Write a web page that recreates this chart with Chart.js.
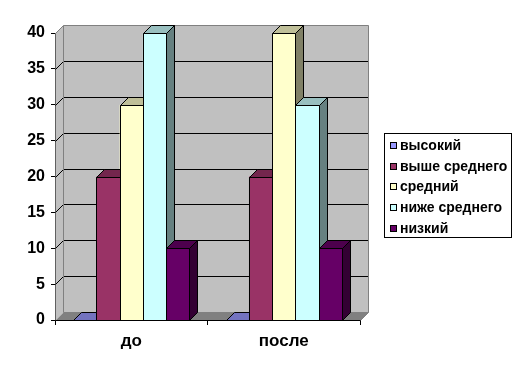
<!DOCTYPE html>
<html>
<head>
<meta charset="utf-8">
<script src="https://cdn.jsdelivr.net/npm/chart.js@4/dist/chart.umd.min.js"></script>
<style>
  html, body { margin: 0; padding: 0; background: #ffffff; }
  #wrap { position: relative; width: 516px; height: 373px; }
</style>
</head>
<body>
<div id="wrap"><canvas id="c" width="516" height="373"></canvas></div>
<script>
// ---- data ----
const categories = ['до', 'после'];
const seriesNames = ['высокий', 'выше среднего', 'средний', 'ниже среднего', 'низкий'];
const vysokiy = [0, 0];
const vysheSrednego = [20, 20];
const sredniy = [30, 40];
const nizheSrednego = [40, 30];
const nizkiy = [10, 10];
const seriesColors = ['#9999FF', '#993366', '#FFFFCC', '#CCFFFF', '#660066'];
const yMin = 0, yMax = 40, yStep = 5;

const seriesValues = [vysokiy, vysheSrednego, sredniy, nizheSrednego, nizkiy];

const DX = 8, DY = -8;

function shade(hex, f) {
  const n = parseInt(hex.slice(1), 16);
  const r = Math.round(((n >> 16) & 255) * f);
  const g = Math.round(((n >> 8) & 255) * f);
  const b = Math.round((n & 255) * f);
  return 'rgb(' + r + ',' + g + ',' + b + ')';
}

function poly(ctx, pts, fill, stroke) {
  ctx.beginPath();
  ctx.moveTo(pts[0][0], pts[0][1]);
  for (let i = 1; i < pts.length; i++) ctx.lineTo(pts[i][0], pts[i][1]);
  ctx.closePath();
  if (fill) { ctx.fillStyle = fill; ctx.fill(); }
  if (stroke) { ctx.strokeStyle = stroke; ctx.lineWidth = 1; ctx.stroke(); }
}

const threeD = {
  id: 'threeD',
  beforeDatasetsDraw(chart) {
    const ctx = chart.ctx;
    const a = chart.chartArea;
    const ys = chart.scales.y;
    const L = Math.round(a.left) + 0.5, R = Math.round(a.right) + 0.5;
    const T = Math.round(a.top) + 0.5, B = Math.round(a.bottom) + 0.5;
    ctx.save();
    poly(ctx, [[L, T], [L + DX, T + DY], [L + DX, B + DY], [L, B]], '#C0C0C0', null);
    poly(ctx, [[L + DX, T + DY], [R + DX, T + DY], [R + DX, B + DY], [L + DX, B + DY]], '#C0C0C0', null);
    poly(ctx, [[L, B], [L + DX, B + DY], [R + DX, B + DY], [R, B]], '#808080', null);
    ctx.strokeStyle = '#000000';
    ctx.lineWidth = 1;
    for (let v = yMin + yStep; v < yMax; v += yStep) {
      const y = Math.round(ys.getPixelForValue(v)) + 0.5;
      ctx.beginPath();
      ctx.moveTo(L, y);
      ctx.lineTo(L + DX, y + DY);
      ctx.lineTo(R + DX, y + DY);
      ctx.stroke();
    }
    ctx.strokeStyle = '#808080';
    ctx.beginPath();
    ctx.moveTo(L, T); ctx.lineTo(L + DX, T + DY); ctx.lineTo(R + DX, T + DY);
    ctx.lineTo(R + DX, B + DY); ctx.lineTo(R, B);
    ctx.moveTo(L + DX, T + DY); ctx.lineTo(L + DX, B + DY); ctx.lineTo(R + DX, B + DY);
    ctx.stroke();
    ctx.restore();
  },
  afterDatasetsDraw(chart) {
    const ctx = chart.ctx;
    ctx.save();
    const n = chart.data.labels.length;
    for (let i = 0; i < n; i++) {
      for (let d = 0; d < chart.data.datasets.length; d++) {
        const meta = chart.getDatasetMeta(d);
        const el = meta.data[i];
        const p = el.getProps(['x', 'y', 'base', 'width'], true);
        const l = Math.round(p.x - p.width / 2) + 0.5;
        const r = Math.round(p.x + p.width / 2) + 0.5;
        const t = Math.round(p.y) + 0.5;
        const b = Math.round(p.base) + 0.5;
        const col = seriesColors[d];
        if (b - t > 0.6) {
          poly(ctx, [[l, t], [r, t], [r, b], [l, b]], col, '#000000');
        }
        poly(ctx, [[l, t], [l + DX, t + DY], [r + DX, t + DY], [r, t]], shade(col, 0.75), '#000000');
        if (b - t > 0.6) {
          poly(ctx, [[r, t], [r + DX, t + DY], [r + DX, b + DY], [r, b]], shade(col, 0.5), '#000000');
        }
      }
    }
    const a = chart.chartArea;
    ctx.strokeStyle = '#000000';
    ctx.beginPath();
    ctx.moveTo(Math.round(a.left) + 0.5, Math.round(a.bottom) + 0.5);
    ctx.lineTo(Math.round(a.right) + 0.5, Math.round(a.bottom) + 0.5);
    ctx.stroke();
    ctx.restore();
  },
  afterDraw(chart) {
    const ctx = chart.ctx;
    ctx.save();
    const bx = 384.5, by = 133.5, bw = 127, bh = 104;
    ctx.fillStyle = '#ffffff';
    ctx.fillRect(bx, by, bw, bh);
    ctx.strokeStyle = '#000000';
    ctx.lineWidth = 1;
    ctx.strokeRect(bx, by, bw, bh);
    ctx.font = 'bold 14px "Liberation Sans", Arial, sans-serif';
    ctx.textBaseline = 'middle';
    ctx.textAlign = 'left';
    const names = chart.data.datasets.map(ds => ds.label);
    for (let k = 0; k < names.length; k++) {
      const cy = 145.5 + k * 20.7;
      const sy = Math.round(cy - 3.5) + 0.5;
      ctx.fillStyle = seriesColors[k];
      ctx.fillRect(390.5, sy, 6, 6);
      ctx.strokeStyle = '#000000';
      ctx.strokeRect(390.5, sy, 6, 6);
      ctx.fillStyle = '#000000';
      ctx.fillText(names[k], 400, cy + 0.5);
    }
    ctx.restore();
  }
};

const datasets = seriesNames.map((name, k) => ({
  label: name,
  data: seriesValues[k],
  backgroundColor: seriesColors[k],
  borderColor: '#000000',
  borderWidth: 0,
  categoryPercentage: 0.76,
  barPercentage: 1.0
}));

new Chart(document.getElementById('c'), {
  type: 'bar',
  data: { labels: categories, datasets: datasets },
  options: {
    responsive: false,
    animation: false,
    events: [],
    layout: { padding: { left: 0, right: 156, top: 33, bottom: 0 } },
    plugins: { legend: { display: false }, tooltip: { enabled: false } },
    scales: {
      x: {
        grid: { drawOnChartArea: false, drawTicks: true, tickLength: 5, color: '#000000', offset: true },
        border: { display: true, color: '#000000' },
        ticks: { color: '#000000', font: { family: '"Liberation Sans", Arial, sans-serif', size: 17, weight: 'bold' }, padding: 6 },
        afterFit(scale) { scale.height = 53; }
      },
      y: {
        min: yMin, max: yMax,
        grid: { drawOnChartArea: false, drawTicks: true, tickLength: 4, color: '#000000' },
        border: { display: true, color: '#000000' },
        ticks: { stepSize: yStep, color: '#000000', font: { family: '"Liberation Sans", Arial, sans-serif', size: 16, weight: 'bold' }, padding: 6 },
        afterFit(scale) { scale.width = 55; }
      }
    }
  },
  plugins: [threeD]
});
</script>
</body>
</html>
